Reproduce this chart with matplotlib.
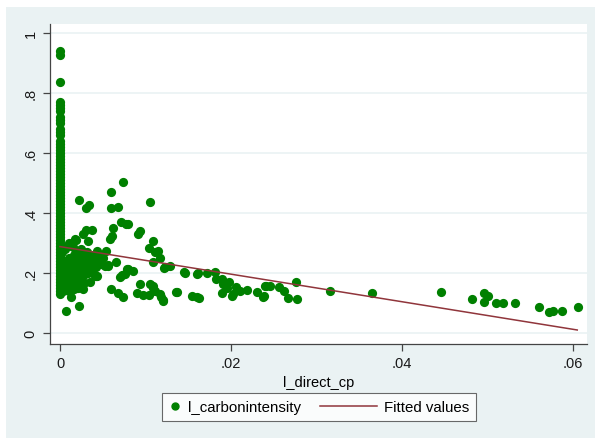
import numpy as np
import matplotlib.pyplot as plt
from matplotlib.patches import Rectangle
from matplotlib.lines import Line2D
from matplotlib.legend_handler import HandlerLine2D

plt.rcParams['font.family'] = ['Liberation Sans', 'DejaVu Sans']

# column of observations at l_direct_cp = 0
col_y = [0.939, 0.927, 0.838, 0.77, 0.76, 0.75, 0.74, 0.72, 0.71, 0.70, 0.68,
         0.67, 0.66, 0.64, 0.63, 0.62, 0.61, 0.60, 0.59, 0.58, 0.57, 0.56,
         0.55, 0.54, 0.53, 0.52, 0.51, 0.50, 0.49, 0.48, 0.47, 0.46, 0.45,
         0.44, 0.43, 0.42, 0.41, 0.40, 0.39, 0.38, 0.37, 0.36, 0.35, 0.34,
         0.33, 0.32, 0.31, 0.30, 0.29, 0.28, 0.27, 0.26, 0.25, 0.24, 0.23,
         0.22, 0.21, 0.20, 0.19, 0.18, 0.17, 0.16, 0.15, 0.14, 0.13]

# remaining observations
pts_x = [0.0003, 0.0004, 0.0005, 0.0004, 0.0006, 0.0005, 0.0007, 0.0008, 0.0009,
         0.0010, 0.0008, 0.0011, 0.0012, 0.0013, 0.0014, 0.0015, 0.0013, 0.0016,
         0.0017, 0.0018, 0.0019, 0.0020, 0.0021, 0.0019, 0.0022, 0.0023, 0.0024,
         0.0025, 0.0026, 0.0024, 0.0027, 0.0028, 0.0029, 0.0030, 0.0031, 0.0033,
         0.0034, 0.0035, 0.0036, 0.0038, 0.0039, 0.0040, 0.0042, 0.0044, 0.0046,
         0.0048, 0.0050, 0.0006, 0.0009, 0.0015, 0.0002, 0.0010, 0.0016, 0.0021,
         0.0028, 0.0035, 0.0043, 0.0012, 0.0019, 0.0053, 0.0056, 0.0042,
         0.0074, 0.0060, 0.00226, 0.0030, 0.00343, 0.00596, 0.00682, 0.0077,
         0.0071, 0.00624, 0.00585, 0.00604, 0.00304, 0.0037, 0.00331, 0.00273,
         0.00175, 0.00105, 0.00538, 0.00436, 0.00655, 0.00565, 0.0041, 0.00722,
         0.0078, 0.00596, 0.00682, 0.00733, 0.00125, 0.00273, 0.00226, 0.0007,
         0.00226, 0.01053, 0.00791, 0.00936, 0.00909, 0.01084, 0.01045, 0.0115,
         0.01111, 0.0117, 0.01092, 0.01216, 0.01287, 0.0080, 0.00858, 0.0076,
         0.00702, 0.01462, 0.01606, 0.00936, 0.01053, 0.01092, 0.00905, 0.00967,
         0.01045, 0.0117, 0.01208, 0.01365, 0.0154, 0.01606, 0.01228, 0.01454,
         0.01618, 0.01723, 0.01813, 0.01825, 0.01891, 0.0191, 0.0198, 0.0195,
         0.01891, 0.02027, 0.02058, 0.02008, 0.02105, 0.02184, 0.02308, 0.02398,
         0.02386, 0.0109, 0.0111, 0.01177, 0.01208, 0.01357, 0.0163, 0.02378,
         0.0241, 0.02456, 0.02561, 0.0262, 0.02663, 0.0276, 0.02776, 0.03158,
         0.03645, 0.04453, 0.04815, 0.04963, 0.0501, 0.04963, 0.0510, 0.05178,
         0.05322, 0.05602, 0.05719, 0.05762, 0.05871, 0.06055]
pts_y = [0.14, 0.16, 0.18, 0.20, 0.22, 0.24, 0.15, 0.17, 0.19,
         0.21, 0.23, 0.25, 0.16, 0.18, 0.20, 0.22, 0.24, 0.26,
         0.17, 0.19, 0.21, 0.23, 0.25, 0.27, 0.18, 0.20, 0.22,
         0.24, 0.26, 0.28, 0.19, 0.21, 0.23, 0.25, 0.27, 0.20,
         0.22, 0.24, 0.26, 0.21, 0.23, 0.25, 0.22, 0.24, 0.26,
         0.23, 0.25, 0.28, 0.29, 0.285, 0.27, 0.14, 0.145, 0.15,
         0.165, 0.17, 0.19, 0.297, 0.311, 0.224, 0.227, 0.189,
         0.504, 0.469, 0.444, 0.417, 0.428, 0.417, 0.421, 0.363,
         0.371, 0.349, 0.313, 0.324, 0.343, 0.343, 0.308, 0.330,
         0.313, 0.300, 0.274, 0.274, 0.236, 0.224, 0.189, 0.193,
         0.213, 0.147, 0.133, 0.119, 0.119, 0.147, 0.158, 0.074,
         0.089, 0.438, 0.363, 0.341, 0.330, 0.308, 0.283, 0.274,
         0.269, 0.249, 0.238, 0.216, 0.224, 0.213, 0.208, 0.197,
         0.186, 0.200, 0.197, 0.163, 0.163, 0.149, 0.133, 0.127,
         0.127, 0.130, 0.111, 0.136, 0.124, 0.119, 0.219, 0.202,
         0.200, 0.200, 0.204, 0.180, 0.180, 0.163, 0.171, 0.149,
         0.133, 0.130, 0.152, 0.122, 0.141, 0.144, 0.138, 0.158,
         0.122, 0.158, 0.141, 0.119, 0.108, 0.136, 0.116, 0.121,
         0.158, 0.158, 0.152, 0.141, 0.116, 0.169, 0.113, 0.141,
         0.133, 0.136, 0.113, 0.132, 0.124, 0.102, 0.100, 0.100,
         0.100, 0.086, 0.069, 0.074, 0.072, 0.086]

# fitted values (endpoints of the linear fit)
fit_x = [0.0, 0.0605]
fit_y = [0.288, 0.010]

xticks = [0, 0.02, 0.04, 0.06]
xtick_labels = ['0', '.02', '.04', '.06']
yticks = [0, 0.2, 0.4, 0.6, 0.8, 1.0]
ytick_labels = ['0', '.2', '.4', '.6', '.8', '1']

bg = '#eaf2f3'
green = '#008000'
maroon = '#90353b'
axcol = '#444444'


class LongLine(HandlerLine2D):
    # legend line that reaches further left than the handle box
    def create_artists(self, legend, orig_handle, xdescent, ydescent,
                       width, height, fontsize, trans):
        extra = 3.0 * fontsize
        y = (height - ydescent) / 2.0
        ln = Line2D([-xdescent - extra, -xdescent + width], [y, y])
        self.update_prop(ln, orig_handle, legend)
        ln.set_transform(trans)
        return [ln]


fig = plt.figure(figsize=(5.95, 4.39), dpi=100, facecolor='white')
fig.patches.append(Rectangle((6 / 595, 0), 589 / 595, 431 / 439,
                             transform=fig.transFigure, facecolor=bg,
                             edgecolor='none', zorder=-10))
ax = fig.add_axes([50 / 595, 94 / 439, 537 / 595, 320 / 439])
ax.set_facecolor('white')

all_x = [0.0] * len(col_y) + pts_x
all_y = col_y + pts_y
ax.scatter(all_x, all_y, s=44, color=green, linewidths=0, zorder=3)
ax.plot(fit_x, fit_y, color=maroon, lw=1.1, zorder=4)

ax.set_xlim(-0.00117, 0.06164)
ax.set_ylim(-0.0367, 1.03)
ax.set_xticks(xticks)
ax.set_xticklabels(xtick_labels)
ax.set_yticks(yticks)
ax.set_yticklabels(ytick_labels, rotation=90, va='center')
ax.grid(axis='y', color=bg, lw=1.2, zorder=0)
ax.set_axisbelow(True)
ax.tick_params(length=5, width=0.9, color=axcol, labelsize=10.5,
               labelcolor='#1a1a1a', pad=4)
for s in ['top', 'right']:
    ax.spines[s].set_visible(False)
for s in ['left', 'bottom']:
    ax.spines[s].set_color(axcol)
    ax.spines[s].set_linewidth(0.9)
ax.set_xlabel('l_direct_cp', fontsize=10.5, labelpad=3)

mk = Line2D([], [], ls='none', marker='o', color=green, markersize=5)
fl = Line2D([], [], color=maroon, lw=1.1)
leg = fig.legend([mk, fl], ['l_carbonintensity', 'Fitted values'], loc='center',
                 bbox_to_anchor=(0.536, 0.071), ncol=2, fontsize=10.8,
                 frameon=True, fancybox=False, handlelength=0.8,
                 columnspacing=4.3, handletextpad=0.45, borderpad=0.45,
                 borderaxespad=0, handler_map={fl: LongLine(),
                                               mk: HandlerLine2D(numpoints=1)})
leg.get_frame().set_edgecolor(axcol)
leg.get_frame().set_linewidth(0.8)

fig.savefig('out.png', dpi=100, facecolor='white')
